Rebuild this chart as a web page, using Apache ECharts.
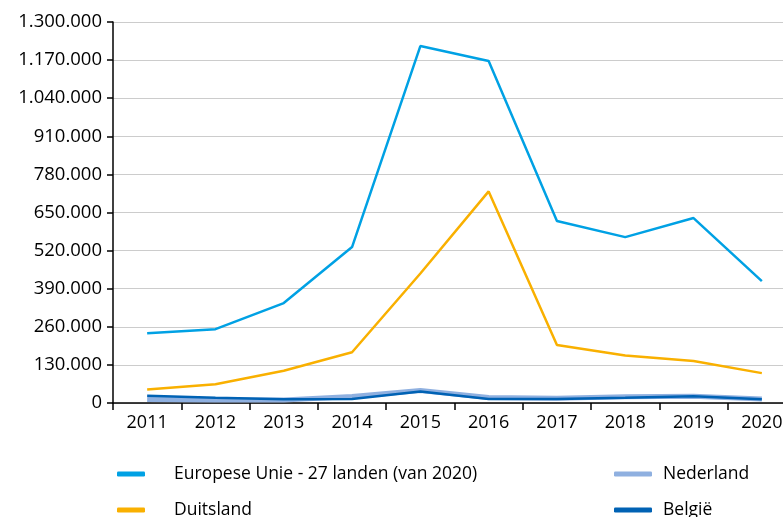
<!DOCTYPE html>
<html>
<head>
<meta charset="utf-8">
<script src="https://cdn.jsdelivr.net/npm/echarts@6/dist/echarts.min.js"></script>
<style>
  html, body { margin: 0; padding: 0; background: #fff; overflow: hidden; width: 783px; height: 517px; }
  /* the plot runs a little past the right edge of the page */
  #chart { width: 796px; height: 517px; }
</style>
</head>
<body>
<div id="chart"></div>
<script>
// Asielaanvragen per jaar
const years = ['2011', '2012', '2013', '2014', '2015', '2016', '2017', '2018', '2019', '2020'];
const euValues = [238000, 252000, 341000, 532000, 1218000, 1167000, 621000, 566000, 631000, 416000];
const duitslandValues = [46000, 64000, 110000, 173000, 442000, 722000, 198000, 162000, 143000, 102000];
const nederlandValues = [12000, 10000, 10000, 22000, 43000, 19000, 16000, 21000, 23000, 14000];
const belgieValues = [25000, 18000, 12500, 14000, 39000, 14000, 14000, 18000, 23000, 13000];
const yTicks = { min: 0, max: 1300000, interval: 130000 };

const font = '"Open Sans", "Noto Sans", sans-serif';

function fmt(v) {
  return String(v).replace(/\B(?=(\d{3})+(?!\d))/g, '.');
}

const chart = echarts.init(document.getElementById('chart'), null, { renderer: 'canvas' });

const legendText = { fontFamily: font, fontSize: 17.5, color: '#000' };

chart.setOption({
  animation: false,
  grid: { left: 113, right: 0, top: 22, bottom: 114, containLabel: false },
  legend: [
    {
      data: ['Europese Unie - 27 landen (van 2020)', 'Duitsland'],
      orient: 'vertical', left: 117, top: 462, height: 80, padding: 0, itemGap: 12,
      itemWidth: 28, itemHeight: 5, icon: 'roundRect',
      textStyle: Object.assign({}, legendText, { padding: [0, 0, 0, 24], lineHeight: 24 })
    },
    {
      data: ['Nederland', 'België'],
      orient: 'vertical', left: 614, top: 462, height: 80, padding: 0, itemGap: 12,
      itemWidth: 38, itemHeight: 5, icon: 'roundRect',
      textStyle: Object.assign({}, legendText, { padding: [0, 0, 0, 6], lineHeight: 24 })
    }
  ],
  xAxis: {
    type: 'category',
    data: years,
    boundaryGap: true,
    axisLine: { lineStyle: { color: '#000', width: 1.5 } },
    axisTick: { show: true, length: 7, lineStyle: { color: '#000', width: 1.5 } },
    axisLabel: { fontFamily: font, fontSize: 18, color: '#000', margin: 11 },
    splitLine: { show: false }
  },
  yAxis: {
    type: 'value',
    min: yTicks.min, max: yTicks.max, interval: yTicks.interval,
    axisLine: { show: true, lineStyle: { color: '#000', width: 1.5 } },
    axisTick: { show: true, inside: false, length: 6, lineStyle: { color: '#000', width: 1.5 } },
    axisLabel: { fontFamily: font, fontSize: 18.5, color: '#000', margin: 11, formatter: fmt },
    splitLine: { show: true, lineStyle: { color: '#cccccc', width: 1.2 } }
  },
  series: [
    {
      name: 'Europese Unie - 27 landen (van 2020)', type: 'line', data: euValues,
      symbol: 'none', lineStyle: { color: '#00a1e4', width: 2.5 }, itemStyle: { color: '#00a1e4' }, z: 4
    },
    {
      name: 'Duitsland', type: 'line', data: duitslandValues,
      symbol: 'none', lineStyle: { color: '#f9b000', width: 2.5 }, itemStyle: { color: '#f9b000' }, z: 4
    },
    {
      name: 'Nederland', type: 'line', data: nederlandValues,
      symbol: 'none', lineStyle: { color: '#8fb0e0', width: 5 }, itemStyle: { color: '#8fb0e0' }, z: 2
    },
    {
      name: 'België', type: 'line', data: belgieValues,
      symbol: 'none', lineStyle: { color: '#0062b4', width: 2.5 }, itemStyle: { color: '#0062b4' }, z: 3
    }
  ]
});
</script>
</body>
</html>
